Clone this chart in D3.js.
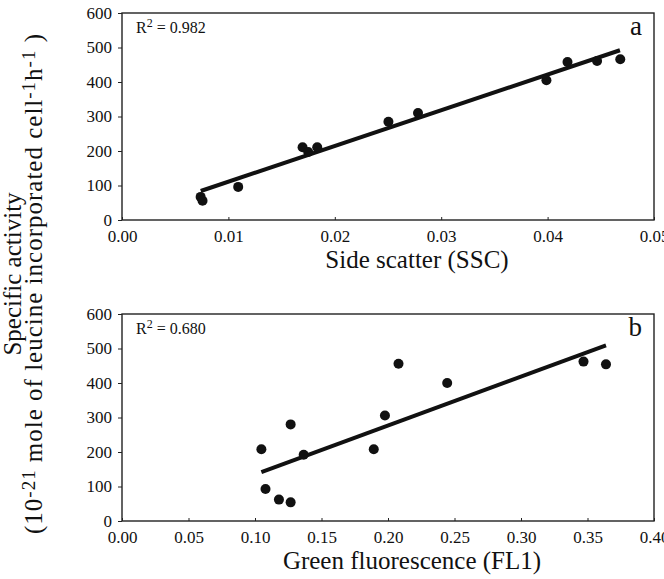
<!DOCTYPE html>
<html><head><meta charset="utf-8">
<script src="https://cdn.jsdelivr.net/npm/d3@7"></script>
<style>
body{margin:0;background:#fff;}
svg{display:block;}
text{font-family:"Liberation Serif","DejaVu Serif",serif;fill:#111;}
</style></head>
<body>
<svg id="chart" width="664" height="579"></svg>
<script>
// ---- data ----
const sscX = [0.00739,0.00757,0.01092,0.01697,0.0175,0.01835,0.02504,0.02782,0.03989,0.04187,0.04465,0.04683];
const sscY = [67,56,96,211,197,211,285,310,405,458,461,466];
const sscFitX = [0.0074,0.0468];
const sscFitY = [84,492];
const fl1X = [0.1048,0.1079,0.1180,0.1268,0.1268,0.1366,0.1893,0.1977,0.2079,0.2445,0.3470,0.3639];
const fl1Y = [208,93,62,280,54,192,208,306,456,400,462,454];
const fl1FitX = [0.1048,0.3639];
const fl1FitY = [142,509];
const yTicks = [0,100,200,300,400,500,600];
const sscTicks = [0,0.01,0.02,0.03,0.04,0.05];
const fl1Ticks = [0,0.05,0.10,0.15,0.20,0.25,0.30,0.35,0.40];
const panelLabels = ["a","b"];
const r2Labels = ["0.982","0.680"];
const xTitles = ["Side scatter (SSC)","Green fluorescence (FL1)"];

const FONT = '"Liberation Serif","DejaVu Serif",serif';
const svg = d3.select("#chart");
const L = 122, R = 654;
const panels = [
  {top:13, bottom:220, xDom:[0,0.05], xs:sscX, ys:sscY, fx:sscFitX, fy:sscFitY, ticks:sscTicks, titleY:268, titleX:417},
  {top:314, bottom:521, xDom:[0,0.4], xs:fl1X, ys:fl1Y, fx:fl1FitX, fy:fl1FitY, ticks:fl1Ticks, titleY:569, titleX:412}
];

panels.forEach((p,i)=>{
  const x = d3.scaleLinear().domain(p.xDom).range([L,R]);
  const y = d3.scaleLinear().domain([0,600]).range([p.bottom,p.top]);
  const g = svg.append("g");
  g.append("rect").attr("x",L).attr("y",p.top).attr("width",R-L).attr("height",p.bottom-p.top)
    .attr("fill","none").attr("stroke","#222").attr("stroke-width",1.4);
  const ya = g.append("g").attr("transform",`translate(${L},0)`)
    .call(d3.axisLeft(y).tickValues(yTicks).tickSize(4).tickSizeOuter(0).tickPadding(6).tickFormat(d3.format("d")));
  ya.attr("font-family",FONT);
  ya.select(".domain").remove();
  ya.selectAll("line").attr("stroke","#222");
  ya.selectAll("text").attr("font-size",17).attr("fill","#111");
  const xa = g.append("g").attr("transform",`translate(0,${p.bottom})`)
    .call(d3.axisBottom(x).tickValues(p.ticks).tickSize(-3).tickSizeOuter(0).tickPadding(10).tickFormat(d3.format(".2f")));
  xa.attr("font-family",FONT);
  xa.select(".domain").remove();
  xa.selectAll("line").attr("stroke","#222");
  xa.selectAll("text").attr("font-size",17).attr("fill","#111");
  g.append("line").attr("x1",x(p.fx[0])).attr("y1",y(p.fy[0])).attr("x2",x(p.fx[1])).attr("y2",y(p.fy[1]))
    .attr("stroke","#111").attr("stroke-width",4);
  g.selectAll("circle.pt").data(p.xs.map((v,k)=>[v,p.ys[k]])).enter().append("circle")
    .attr("cx",d=>x(d[0])).attr("cy",d=>y(d[1])).attr("r",5).attr("fill","#111");
  const rt = g.append("text").attr("x",L+14).attr("y",p.top+20).attr("font-size",16);
  rt.append("tspan").text("R");
  rt.append("tspan").attr("dy",-6).attr("font-size",12).text("2");
  rt.append("tspan").attr("dy",6).text(" = "+r2Labels[i]);
  g.append("text").attr("x",642).attr("y",p.top+22).attr("text-anchor","end").attr("font-size",27).text(panelLabels[i]);
  g.append("text").attr("x",p.titleX).attr("y",p.titleY).attr("text-anchor","middle").attr("font-size",25).text(xTitles[i]);
});

const yt = svg.append("text").attr("transform","translate(21,274) rotate(-90)").attr("text-anchor","middle").attr("font-size",25);
yt.text("Specific activity");
const yt2 = svg.append("text").attr("transform","translate(42,284) rotate(-90)").attr("text-anchor","middle")
  .attr("font-size",25).attr("textLength",500).attr("lengthAdjust","spacing");
yt2.append("tspan").text("(10");
yt2.append("tspan").attr("dy",-7).attr("font-size",19).text("-21");
yt2.append("tspan").attr("dy",7).text(" mole of leucine incorporated cell");
yt2.append("tspan").attr("dy",-7).attr("font-size",19).text("-1");
yt2.append("tspan").attr("dy",7).text("h");
yt2.append("tspan").attr("dy",-7).attr("font-size",19).text("-1");
yt2.append("tspan").attr("dy",7).text(" )");
</script>
</body></html>
